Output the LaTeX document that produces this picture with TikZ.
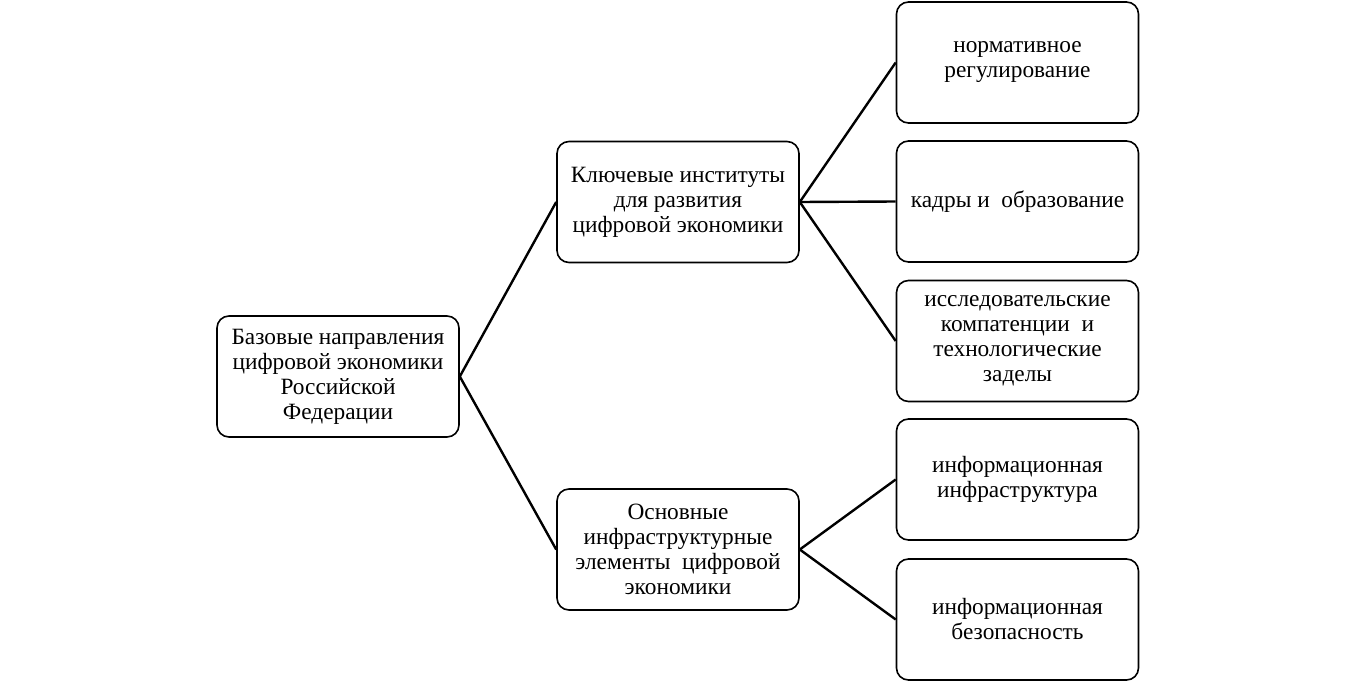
\documentclass[tikz,border=0pt]{standalone}
\usepackage{fontspec}
\setmainfont{Liberation Serif}
\begin{document}
\begin{tikzpicture}[x=0.75pt,y=-0.75pt,
  blok/.style={draw, line width=1.2pt, rounded corners=9pt,
    minimum width=181.5pt, minimum height=90.75pt, inner sep=2pt,
    align=center, font=\fontsize{17.5}{18.75}\selectfont},
  svyaz/.style={line width=1.8pt}]

\useasboundingbox (0,0) rectangle (1354,682);

\node[blok] (baza) at (338,376.5) {Базовые направления\\цифровой экономики\\Российской\\Федерации};

\node[blok] (instituty) at (678,202) {Ключевые институты\\для развития\\цифровой экономики};
\node[blok] (elementy) at (678,549.5) {Основные\\инфраструктурные\\элементы\ \ цифровой\\экономики};

\node[blok] (normy) at (1017.5,62.5) {нормативное\\регулирование};
\node[blok] (kadry) at (1017.5,201.5) {кадры и\ \ образование};
\node[blok] (nauka) at (1017.5,341) {исследовательские\\компатенции\ \ и\\технологические\\заделы};
\node[blok] (infra) at (1017.5,479.5) {информационная\\инфраструктура};
\node[blok] (bezop) at (1017.5,619.5) {информационная\\безопасность};

\draw[svyaz] (baza.east) -- (instituty.west);
\draw[svyaz] (baza.east) -- (elementy.west);

\draw[svyaz] (instituty.east) -- (normy.west);
\draw[svyaz] (instituty.east) -- (kadry.west);
\draw[svyaz] (instituty.east) -- (nauka.west);

\draw[svyaz] (elementy.east) -- (infra.west);
\draw[svyaz] (elementy.east) -- (bezop.west);
\end{tikzpicture}
\end{document}
